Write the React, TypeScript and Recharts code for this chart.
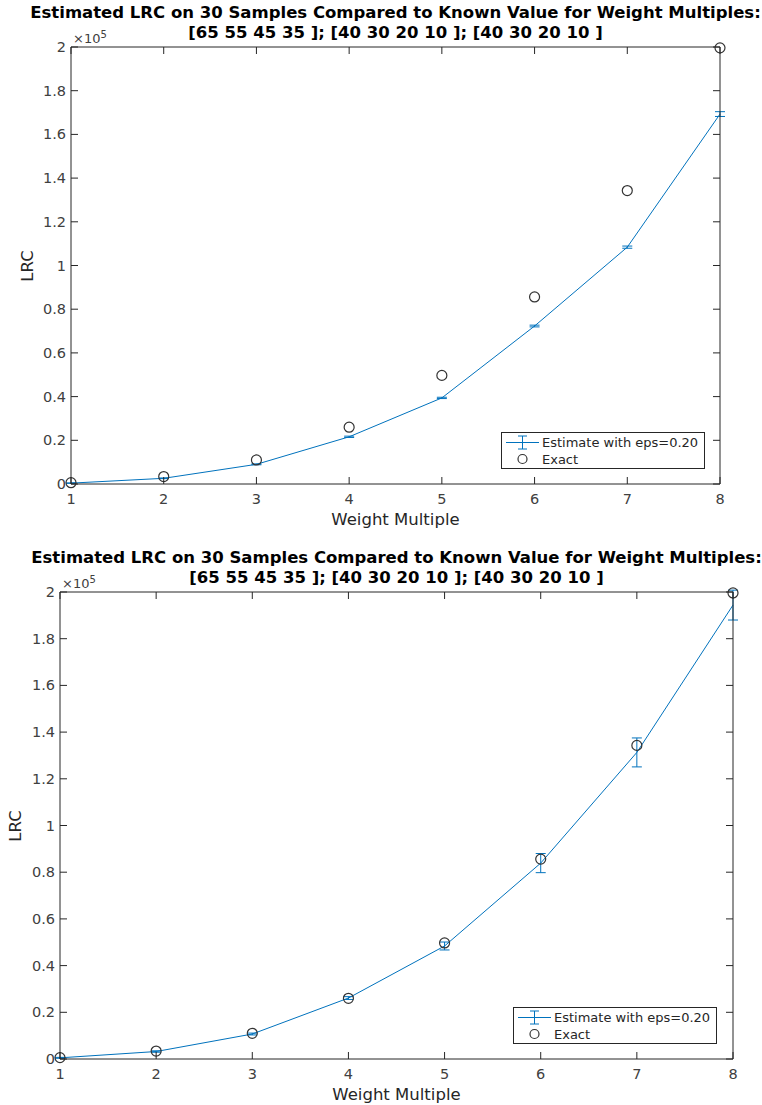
import { ComposedChart, ErrorBar, Line, XAxis, YAxis } from "recharts";

const weights = [1, 2, 3, 4, 5, 6, 7, 8];
const exactLrc = [600, 3400, 11000, 26000, 49700, 85600, 134300, 199600];
const topEstimate = [400, 2600, 9000, 21600, 39400, 72300, 108400, 169300];
const topError = [100, 150, 200, 300, 300, 400, 500, 1100];
const bottomEstimate = [500, 3200, 10700, 26100, 48400, 83900, 131300, 194400];
const bottomError = [200, 300, 400, 600, 1700, 4100, 6200, 6400];
const yTicks = [0, 20000, 40000, 60000, 80000, 100000, 120000, 140000, 160000, 180000, 200000];

const titleLines = [
  "Estimated LRC on 30 Samples Compared to Known Value for Weight Multiples:",
  "[65 55 45 35 ]; [40 30 20 10 ]; [40 30 20 10 ]",
];

const AXIS = "#262626";
const BLUE = "#0072BD";
const FONT = "'DejaVu Sans', sans-serif";

const fmtY = (v: number) => String(Math.round((v / 1e5) * 10) / 10);

function LeftTick({ x, y, payload }: any) {
  return (
    <g>
      <line x1={x} x2={x + 7} y1={y} y2={y} stroke={AXIS} />
      <text x={x - 5} y={y} dy={5} textAnchor="end" fontSize={14.5} fill="#404040" fontFamily={FONT}>
        {fmtY(payload.value)}
      </text>
    </g>
  );
}
function RightTick({ x, y }: any) {
  return <line x1={x - 7} x2={x} y1={y} y2={y} stroke={AXIS} />;
}
function BottomTick({ x, y, payload }: any) {
  return (
    <g>
      <line x1={x} x2={x} y1={y - 7} y2={y} stroke={AXIS} />
      <text x={x} y={y + 20} textAnchor="middle" fontSize={14.5} fill="#404040" fontFamily={FONT}>
        {payload.value}
      </text>
    </g>
  );
}
function TopTick({ x, y }: any) {
  return <line x1={x} x2={x} y1={y} y2={y + 7} stroke={AXIS} />;
}

type Box = { top: number; right: number; bottom: number; left: number };

type PanelProps = {
  top: number;
  height: number;
  plot: Box; // distances of the plot area from the panel edges
  estimate: number[];
  error: number[];
  legend: { left: number; top: number };
  yLabelX: number;
};

const LW = 30; // left axis width
const RW = 5; // right axis width
const TH = 5; // top axis height
const BH = 30; // bottom axis height

function Panel({ top, height, plot, estimate, error, legend, yLabelX }: PanelProps) {
  const data = weights.map((w, i) => ({ w, est: estimate[i], err: error[i], exact: exactLrc[i] }));
  const margin = { top: plot.top - TH, right: plot.right - RW, bottom: plot.bottom - BH, left: plot.left - LW };
  const plotLeft = plot.left;
  const plotRight = 762 - plot.right;
  const plotBottom = height - plot.bottom;
  const cx = (plotLeft + plotRight) / 2;
  const cy = (plot.top + plotBottom) / 2;
  return (
    <div style={{ position: "absolute", left: 0, top, width: 762, height, fontFamily: FONT }}>
      <ComposedChart width={762} height={height} data={data} margin={margin}>
        <XAxis xAxisId="b" dataKey="w" type="number" domain={[1, 8]} ticks={weights} interval={0}
          height={BH} tickSize={0} tickMargin={0} stroke={AXIS} tick={<BottomTick />} />
        <XAxis xAxisId="t" dataKey="w" type="number" domain={[1, 8]} ticks={weights} interval={0}
          orientation="top" height={TH} tickSize={0} tickMargin={0} stroke={AXIS} tick={<TopTick />} />
        <YAxis yAxisId="l" type="number" domain={[0, 200000]} ticks={yTicks} interval={0}
          width={LW} tickSize={0} tickMargin={0} stroke={AXIS} tick={<LeftTick />} allowDataOverflow />
        <YAxis yAxisId="r" type="number" domain={[0, 200000]} ticks={yTicks} interval={0}
          orientation="right" width={RW} tickSize={0} tickMargin={0} stroke={AXIS} tick={<RightTick />} />
        <Line xAxisId="b" yAxisId="l" type="linear" dataKey="est" stroke={BLUE} strokeWidth={1}
          dot={false} activeDot={false} isAnimationActive={false}>
          <ErrorBar dataKey="err" width={5} stroke={BLUE} strokeWidth={1} direction="y" />
        </Line>
        <Line xAxisId="t" yAxisId="r" type="linear" dataKey="exact" stroke="none"
          dot={{ r: 5, fill: "none", stroke: "#333", strokeWidth: 1.2 }} activeDot={false} isAnimationActive={false} />
      </ComposedChart>

      <div style={{ position: "absolute", left: 0, width: cx * 2, top: plot.top - 44, textAlign: "center",
        fontWeight: "bold", fontSize: 16.5, lineHeight: "20px", color: "#000" }}>
        {titleLines.map((t) => <div key={t}>{t}</div>)}
      </div>
      <div style={{ position: "absolute", left: plotLeft + 2, top: plot.top - 18, fontSize: 13, color: "#404040" }}>
        ×10<sup style={{ fontSize: 10 }}>5</sup>
      </div>
      <div style={{ position: "absolute", left: cx - 100, width: 200, top: plotBottom + 26, textAlign: "center",
        fontSize: 16.5, lineHeight: "20px", color: "#262626" }}>
        Weight Multiple
      </div>
      <div style={{ position: "absolute", left: yLabelX - 30, top: cy - 10, width: 60, textAlign: "center",
        fontSize: 16.5, lineHeight: "20px", color: "#262626", transform: "rotate(-90deg)" }}>
        LRC
      </div>

      <div style={{ position: "absolute", left: legend.left, top: legend.top, width: 204, height: 37,
        border: "1px solid #262626", background: "#fff", boxSizing: "border-box", fontSize: 13, color: "#262626" }}>
        <div style={{ display: "flex", alignItems: "center", height: 17, marginTop: 1 }}>
          <svg width={40} height={17}>
            <line x1={4} x2={37} y1={8.5} y2={8.5} stroke={BLUE} />
            <line x1={20.5} x2={20.5} y1={2} y2={15} stroke={BLUE} />
            <line x1={16} x2={25} y1={2} y2={2} stroke={BLUE} />
            <line x1={16} x2={25} y1={15} y2={15} stroke={BLUE} />
          </svg>
          <span>Estimate with eps=0.20</span>
        </div>
        <div style={{ display: "flex", alignItems: "center", height: 16 }}>
          <svg width={40} height={16}>
            <circle cx={20.5} cy={8} r={4.5} fill="none" stroke="#333" strokeWidth={1.2} />
          </svg>
          <span>Exact</span>
        </div>
      </div>
    </div>
  );
}

export default function App() {
  return (
    <div style={{ position: "absolute", left: 0, top: 0, width: 762, height: 1105, background: "#fff" }}>
      <Panel top={0} height={540} plot={{ top: 47, right: 42, bottom: 56, left: 71 }}
        estimate={topEstimate} error={topError} legend={{ left: 501, top: 432 }} yLabelX={28} />
      <Panel top={545} height={560} plot={{ top: 47, right: 29, bottom: 46, left: 60 }}
        estimate={bottomEstimate} error={bottomError} legend={{ left: 513, top: 462 }} yLabelX={16} />
    </div>
  );
}
